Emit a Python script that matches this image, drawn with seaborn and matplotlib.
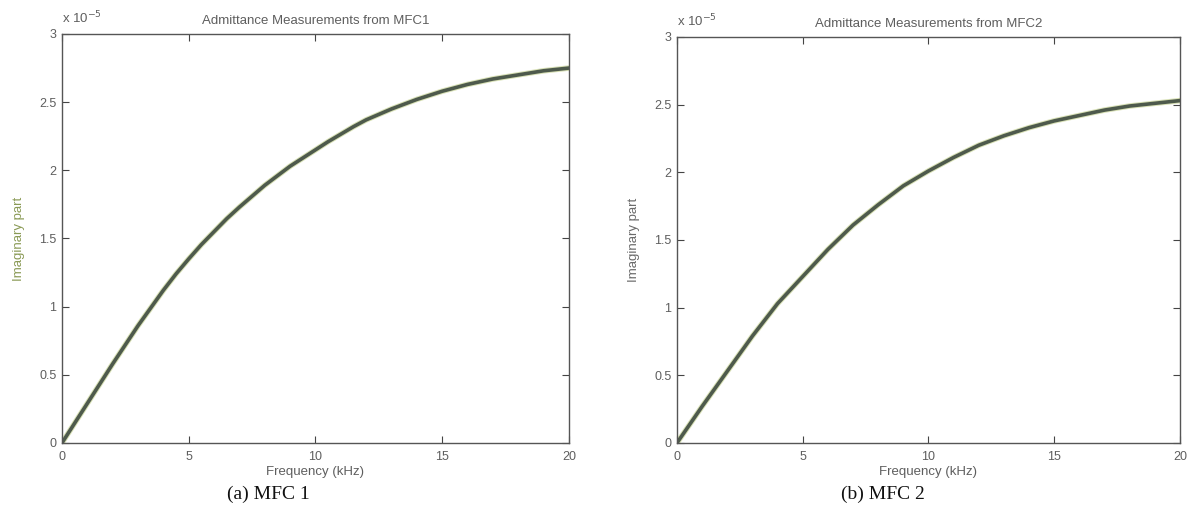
import numpy as np
import pandas as pd
import matplotlib
matplotlib.use("Agg")
import matplotlib.pyplot as plt
import seaborn as sns
from matplotlib.ticker import FuncFormatter

# ---- data ----
freq_khz = [0, 0.5, 1, 1.5, 2, 2.5, 3, 3.5, 4, 4.5, 5, 5.5, 6, 6.5, 7, 7.5, 8, 8.5, 9, 9.5,
            10, 10.5, 11, 11.5, 12, 12.5, 13, 13.5, 14, 14.5, 15, 15.5, 16, 16.5, 17, 17.5,
            18, 18.5, 19, 19.5, 20]
# imaginary part of admittance, in units of 1e-5 S
mfc1_imag = [0, 0.145, 0.29, 0.435, 0.58, 0.72, 0.86, 0.99, 1.12, 1.24, 1.35, 1.455, 1.55,
             1.645, 1.73, 1.81, 1.89, 1.96, 2.03, 2.09, 2.15, 2.21, 2.265, 2.32, 2.37, 2.41,
             2.45, 2.485, 2.52, 2.55, 2.58, 2.605, 2.63, 2.65, 2.67, 2.685, 2.70, 2.715,
             2.73, 2.74, 2.75]
mfc2_imag = [0, 0.135, 0.27, 0.40, 0.53, 0.66, 0.79, 0.91, 1.03, 1.13, 1.23, 1.33, 1.43,
             1.52, 1.61, 1.685, 1.76, 1.83, 1.90, 1.955, 2.01, 2.06, 2.11, 2.155, 2.20, 2.235,
             2.27, 2.30, 2.33, 2.355, 2.38, 2.40, 2.42, 2.44, 2.46, 2.475, 2.49, 2.50,
             2.51, 2.52, 2.53]
y_scale = 1e-5
titles = ["Admittance Measurements from MFC1", "Admittance Measurements from MFC2"]
captions = ["(a) MFC 1", "(b) MFC 2"]
x_ticks = [0, 5, 10, 15, 20]
y_ticks = [0, 0.5, 1, 1.5, 2, 2.5, 3]

sns.set_style("ticks")
plt.rcParams["font.family"] = ["Liberation Sans", "DejaVu Sans"]

fig = plt.figure(figsize=(11.87, 5.30), dpi=100)
ax1 = fig.add_axes([0.0522, 0.1642, 0.4271, 0.7717])
ax2 = fig.add_axes([0.5703, 0.1642, 0.4238, 0.766])

text_col = "#5e5e5e"
line_col = "#4e5a4c"
ylabel_cols = ["#8a9a55", "#6a6a6a"]

for i, (ax, vals) in enumerate(zip([ax1, ax2], [mfc1_imag, mfc2_imag])):
    df = pd.DataFrame({"f": freq_khz, "y": np.array(vals) * y_scale})
    sns.lineplot(data=df, x="f", y="y", ax=ax, color="#b8c878", linewidth=4.0, alpha=0.55)
    sns.lineplot(data=df, x="f", y="y", ax=ax, color=line_col, linewidth=2.6)
    ax.set_xlim(0, 20)
    ax.set_ylim(0, 3e-5)
    ax.set_xticks(x_ticks)
    ax.set_yticks([t * y_scale for t in y_ticks])
    ax.yaxis.set_major_formatter(FuncFormatter(lambda v, p: f"{v / 1e-5:g}"))
    ax.xaxis.set_major_formatter(FuncFormatter(lambda v, p: f"{v:g}"))
    ax.tick_params(direction="in", length=5, width=0.8, colors="#444444",
                   labelcolor=text_col, labelsize=9, top=True, right=True)
    ax.tick_params(axis="x", pad=6)
    ax.tick_params(axis="y", pad=4)
    for s in ax.spines.values():
        s.set_visible(True)
        s.set_color("#555555")
        s.set_linewidth(1.0)
    ax.set_title(titles[i], fontsize=9.5, color=text_col, pad=7)
    ax.set_xlabel("Frequency (kHz)", fontsize=9.5, color=text_col, labelpad=2)
    ax.set_ylabel("Imaginary part", fontsize=9.5, color=ylabel_cols[i], labelpad=10)
    ax.text(0.0, 1.018, r"x 10$^{-5}$", transform=ax.transAxes, ha="left", va="bottom",
            fontsize=9.5, color=text_col)

fig.text(268 / 1187, 1 - 494 / 530, captions[0], ha="center", va="center",
         fontsize=14, family="Liberation Serif", color="#111111")
fig.text(883 / 1187, 1 - 494 / 530, captions[1], ha="center", va="center",
         fontsize=14, family="Liberation Serif", color="#111111")

fig.savefig("out.png", dpi=100, facecolor="white")
